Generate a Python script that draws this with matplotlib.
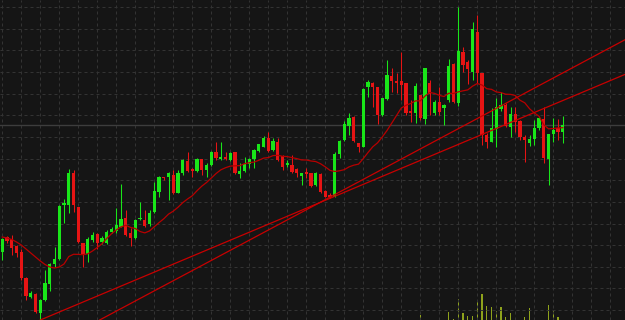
import matplotlib
matplotlib.use('Agg')
import matplotlib.pyplot as plt
import numpy as np
import pandas as pd

# Velas (precio en unidades del eje)
aperturas = [68.3, 82.7, 81, 74, 68, 41.7, 22.7, 26, 6.7, 20,
             36, 56, 60.7, 114.7, 115, 147.3, 112.7, 76.7, 66, 80,
             86, 78, 77.3, 88.3, 89.3, 93.3, 101.7, 86.7, 81.7, 100.7,
             100, 96, 108.3, 128.3, 143.3, 143.3, 145, 127.3, 146.7, 159.3,
             150, 149.3, 160.7, 150, 155, 167.7, 161, 163.3, 160, 167.7,
             146, 149, 155.7, 160.7, 169, 173.3, 182.3, 170, 178.3, 164.3,
             155, 155, 150.7, 144, 148, 146.7, 135, 146, 129.3, 125,
             123.3, 166, 180, 194, 203.3, 176.7, 173.3, 232.7, 236.7, 232.7,
             205, 220.7, 244, 239.3, 239.3, 236.7, 209.3, 206.7, 225, 200.7,
             236.7, 207.3, 218.3, 211.7, 220, 255.7, 216.7, 268.3, 258.3, 248.3,
             288.3, 246.7, 185, 178.3, 190.7, 210.7, 215, 193.3, 206, 199.3,
             183.3, 177.3, 181, 191.7, 200.7, 160.7, 186, 191.7, 188.3]
maximos = [82, 84, 84.7, 75, 70.7, 43.3, 29, 27.3, 20.7, 50,
           57.3, 72.7, 115, 120.7, 150.7, 150, 113, 77.3, 82.7, 88.3,
           86.7, 84, 90, 92.7, 111.7, 136, 110, 91.7, 100.7, 118.3,
           110, 110, 138.3, 144, 143.3, 148.3, 150, 150, 160.7, 168,
           152, 161.7, 161.3, 156.7, 169, 177.7, 177.7, 167.7, 167.7, 168.3,
           156.7, 162.7, 161.7, 170.7, 176, 184.3, 187.7, 181.7, 181.7, 165,
           160, 165, 151.7, 147.3, 152.3, 147.3, 148.3, 146.7, 130, 126.7,
           168.3, 180, 199, 207.3, 204, 177.3, 231.7, 240, 238.3, 233.3,
           222, 260, 251.7, 246.7, 268.3, 236.7, 220, 236.7, 225, 251.7,
           240, 220, 233.3, 216, 260.7, 256.7, 313.3, 273.3, 260, 298.3,
           305, 246.7, 186.7, 212, 221.7, 228.3, 216.7, 213.3, 213.3, 200,
           185, 185, 200, 202.7, 213.3, 186, 201.7, 200.7, 204]
minimos = [60, 77.3, 65, 63.3, 40, 20, 21.7, 7.3, 0, 19.3,
           29.3, 52.7, 60, 96.7, 106.7, 108, 76.7, 53.3, 58.3, 78.3,
           70.7, 76, 76, 86.7, 87.3, 92.7, 84, 74, 80.7, 100,
           93.3, 94, 107.3, 122.7, 140, 120, 126, 126.7, 145, 148.3,
           143.3, 148.3, 145, 143.3, 154.3, 160, 160, 160, 159, 146,
           142.3, 148.3, 151.7, 151.7, 168.3, 172.7, 168.3, 169, 159, 150,
           152.7, 146.7, 143.3, 135, 141.7, 133.3, 134, 127.3, 122.7, 121.7,
           122.7, 161.7, 179.3, 185, 178.3, 168.3, 172.7, 223.3, 212.7, 196,
           204.5, 220, 228.3, 226.7, 220, 205, 198.3, 197.3, 200, 196,
           205, 205, 205, 195, 218.3, 217.3, 214, 248.3, 236, 240,
           236.7, 175, 171.7, 178, 173.3, 209.3, 193.3, 183.3, 188.3, 180,
           158.3, 174, 175, 190, 156.7, 135, 178.3, 180, 177.3]
cierres = [81, 79.3, 71.7, 67.3, 42, 24, 26.7, 8.3, 20, 37.3,
           56, 60.7, 114, 116.7, 146.7, 115, 78.3, 66, 81, 84.7,
           76.7, 82, 88.3, 90.7, 95, 101, 85, 81.7, 100, 102.3,
           94, 107.3, 129, 143.3, 142, 146.7, 126.7, 146.7, 160, 149.3,
           149.5, 160.7, 150, 155, 168.3, 161.7, 163.3, 161, 167.3, 146.7,
           149.3, 155.7, 161, 170, 175.7, 182.3, 169, 179.3, 160, 153.3,
           157.3, 147.7, 146.7, 147, 146, 134, 147.3, 128.3, 123.3, 122.7,
           166, 179.3, 196, 201.7, 179.3, 172.7, 230.7, 238.3, 232.7, 205,
           222, 245, 239.3, 236.7, 235, 207.3, 207.3, 234, 201.7, 251.7,
           226, 217.7, 208.3, 215, 254.3, 218.3, 269.3, 255, 250.7, 290.7,
           247.3, 185, 178.3, 192.3, 213.3, 215, 194, 206, 198.3, 182.7,
           180, 181, 191.7, 201.7, 161.7, 186, 190, 188.3, 195]

# media movil: primeros valores (la ventana empieza antes)
media_inicio = [83, 82, 80.5, 78, 75, 71, 67, 63, 59, 55.5, 53, 52, 53, 56]
periodo_media = 15

# volumen (solo las barras que se ven abajo)
vol_idx = [88, 94, 95, 96, 97, 98, 99, 100, 101, 102, 103, 104, 105, 106, 107, 110, 111, 115, 116, 117]
vol_val = [5000, 8300, 1000, 21000, 6700, 4000, 4000, 18300, 26000, 14300,
           12700, 9000, 12700, 3300, 6700, 3300, 11700, 15000, 10000, 2700]

# lineas de tendencia (indice de vela, precio)
tendencia_a = [(20.5, 0), (131, 280)]
tendencia_b = [(8, 0), (69, 121.7)]

precio_ref = 195

df = pd.DataFrame({'open': aperturas, 'high': maximos, 'low': minimos, 'close': cierres})
media = df['close'].rolling(periodo_media).mean()
media.iloc[:len(media_inicio)] = media_inicio

fondo = '#151515'
verde = '#19e619'
rojo = '#e61414'

fig = plt.figure(figsize=(6.25, 3.2), dpi=100, facecolor=fondo)
ax = fig.add_axes([0, 0, 1, 1])
ax.set_facecolor(fondo)

x = np.arange(len(df))
sube = df['close'] >= df['open']
colores = np.where(sube, verde, rojo)

# rejilla
for gx in np.arange(0, 132, 4):
    ax.axvline(gx, color='#333333', lw=0.72, ls=(0, (3, 3)), zorder=0)
for gy in np.arange(9.9, 320, 21.65):
    ax.axhline(gy, color='#333333', lw=0.72, ls=(0, (3, 3)), zorder=0)
ax.axhline(precio_ref, color='#3d3d3d', lw=1.0, zorder=0.5)

# volumen en eje gemelo
axv = ax.twinx()
axv.set_ylim(0, 320000)
axv.bar(vol_idx, vol_val, width=0.3, color='#8ea21c', zorder=1)
axv.axis('off')

ax.set_zorder(axv.get_zorder() + 1)
ax.patch.set_visible(False)
fig.patch.set_facecolor(fondo)

# mechas y cuerpos
ax.vlines(x, df['low'], df['high'], colors=colores, lw=0.75, zorder=2)
cuerpo = (df['close'] - df['open']).abs().clip(lower=1.2)
base = df[['open', 'close']].min(axis=1)
ax.bar(x, cuerpo, bottom=base, width=0.72, color=colores, linewidth=0, zorder=3)

# media movil
ax.plot(x, media, color='#b80000', lw=0.9, zorder=4)

# tendencias
ax.axline(tendencia_a[0], tendencia_a[1], color='#c80000', lw=0.9, zorder=4)
ax.axline(tendencia_b[0], tendencia_b[1], color='#c80000', lw=0.9, zorder=4)

ax.set_xlim(-0.48, 131.1)
ax.set_ylim(0, 320)
ax.axis('off')

fig.savefig('out.png', dpi=100, facecolor=fondo)
